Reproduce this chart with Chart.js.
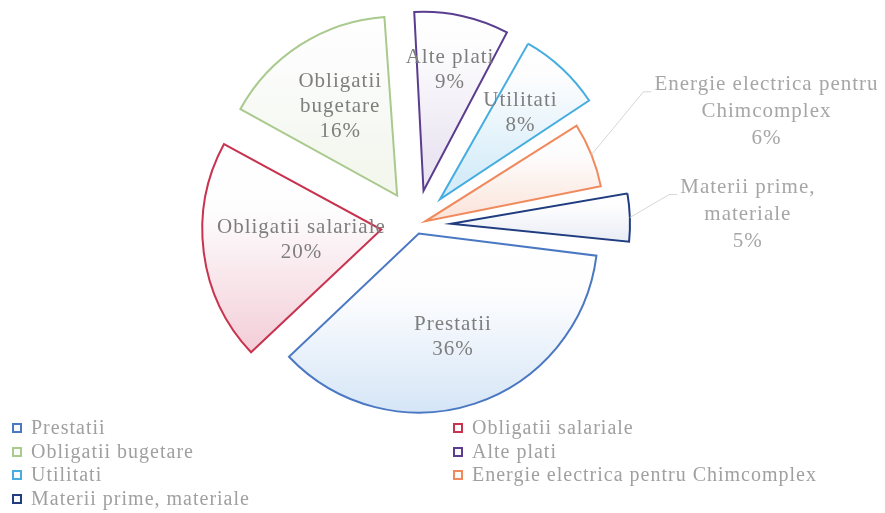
<!DOCTYPE html>
<html>
<head>
<meta charset="utf-8">
<script src="https://cdn.jsdelivr.net/npm/chart.js@4.4.1/dist/chart.umd.min.js"></script>
<style>
  body { margin: 0; background: #fff; }
  #wrap { position: relative; width: 885px; height: 513px; overflow: hidden; }
  #legend .item {
    position: absolute;
    font: 20px "Liberation Serif", serif;
    letter-spacing: 1px;
    color: #a0a0a0;
    white-space: nowrap;
    line-height: 23px;
  }
  #legend .box {
    display: inline-block;
    width: 6px;
    height: 6px;
    border: 2px solid;
    margin-right: 9px;
    position: relative;
    top: -1px;
  }
</style>
</head>
<body>
<div id="wrap">
  <canvas id="chart" width="885" height="513"></canvas>
  <div id="legend"></div>
</div>
<script>
// data
const categories = ['Prestatii', 'Obligatii salariale', 'Obligatii bugetare', 'Alte plati',
  'Utilitati', 'Energie electrica pentru Chimcomplex', 'Materii prime, materiale'];
const shares = [36, 20, 16, 9, 8, 6, 5];
// how the slice labels wrap
const labelLines = [['Prestatii'], ['Obligatii salariale'], ['Obligatii', 'bugetare'], ['Alte plati'],
  ['Utilitati'], ['Energie electrica pentru', 'Chimcomplex'], ['Materii prime,', 'materiale']];

// look
const borderColors = ['#4a78c2', '#c8334f', '#a9c98d', '#5b3d8f', '#45ade0', '#f08a5d', '#203d80'];
const fillColors = ['#d3e4f6', '#f3ccd6', '#f3f7ee', '#ebe6f2', '#d6edf9', '#fbe4da', '#e8ecf4'];
const explode = [36, 140, 140, 140, 140, 40, 140];
const RADIUS = 179;
// inside labels: distance from slice tip as fraction of radius; outside: shift from arc midpoint
const labelDist = [0.61, 0.45, 0.59, 0.69, 0.66, null, null];
const outsideShift = { 5: [175, -43], 6: [118, -3] };

const keepRadius = {
  id: 'keepRadius',
  afterDatasetsUpdate(chart) {
    const ctx = chart.ctx;
    chart.getDatasetMeta(0).data.forEach((arc, i) => {
      // chart.js grows exploded arcs a little, undo that
      const off = (arc.options.offset || 0) / 4;
      const fix = 1 - Math.sin(Math.min(Math.PI, arc.circumference));
      arc.outerRadius = RADIUS - off * fix;
      // white-to-tint fill from the top of the slice to its bottom
      const mid = (arc.startAngle + arc.endAngle) / 2;
      const oy = arc.y + Math.sin(mid) * off;
      let top = oy, bottom = oy;
      for (let k = 0; k <= 40; k++) {
        const a = arc.startAngle + (arc.endAngle - arc.startAngle) * k / 40;
        const y = oy + Math.sin(a) * arc.outerRadius;
        top = Math.min(top, y);
        bottom = Math.max(bottom, y);
      }
      const g = ctx.createLinearGradient(0, top, 0, bottom);
      g.addColorStop(0, '#ffffff');
      g.addColorStop(0.3, '#fdfdfe');
      g.addColorStop(1, fillColors[i]);
      arc.options = Object.assign({}, arc.options, { backgroundColor: g });
    });
  }
};

const sliceLabels = {
  id: 'sliceLabels',
  afterDatasetsDraw(chart) {
    const ctx = chart.ctx;
    const total = shares.reduce((a, b) => a + b, 0);
    ctx.save();
    ctx.font = '21px "Liberation Serif", serif';
    ctx.letterSpacing = '1px';
    ctx.textAlign = 'center';
    ctx.textBaseline = 'middle';
    chart.getDatasetMeta(0).data.forEach((arc, i) => {
      const mid = (arc.startAngle + arc.endAngle) / 2;
      const off = (arc.options.offset || 0) / 4;
      const ox = arc.x + Math.cos(mid) * off;
      const oy = arc.y + Math.sin(mid) * off;
      const lines = labelLines[i].concat([Math.round(shares[i] / total * 100) + '%']);
      if (labelDist[i] !== null) {
        const d = labelDist[i] * RADIUS;
        const cx = ox + Math.cos(mid) * d;
        const cy = oy + Math.sin(mid) * d;
        const lh = 25;
        ctx.fillStyle = '#7e7e7e';
        lines.forEach((t, k) => ctx.fillText(t, cx, cy + (k - (lines.length - 1) / 2) * lh));
      } else {
        const ax = ox + Math.cos(mid) * RADIUS;
        const ay = oy + Math.sin(mid) * RADIUS;
        const cx = ax + outsideShift[i][0];
        const cy = ay + outsideShift[i][1];
        const lh = 27;
        const firstY = cy - (lines.length - 1) / 2 * lh;
        const left = cx - ctx.measureText(lines[0]).width / 2;
        ctx.strokeStyle = '#d6d6d6';
        ctx.lineWidth = 1;
        ctx.beginPath();
        ctx.moveTo(ax, ay);
        ctx.lineTo(left - 11, firstY + 7);
        ctx.lineTo(left - 3, firstY + 7);
        ctx.stroke();
        ctx.fillStyle = '#a6a6a6';
        lines.forEach((t, k) => ctx.fillText(t, cx, firstY + k * lh));
      }
    });
    ctx.restore();
  }
};

new Chart(document.getElementById('chart'), {
  type: 'pie',
  data: {
    labels: categories,
    datasets: [{
      data: shares,
      backgroundColor: fillColors,
      borderColor: borderColors,
      borderWidth: 2,
      borderJoinStyle: 'miter',
      offset: explode,
      radius: RADIUS
    }]
  },
  options: {
    responsive: false,
    animation: false,
    events: [],
    rotation: 97,
    layout: { padding: { left: 0, right: 53, top: 0, bottom: 63 } },
    plugins: {
      legend: { display: false },
      tooltip: { enabled: false }
    }
  },
  plugins: [keepRadius, sliceLabels]
});

// legend in two columns
const legend = document.getElementById('legend');
categories.forEach((name, i) => {
  const el = document.createElement('div');
  el.className = 'item';
  el.style.left = (12 + (i % 2) * 441) + 'px';
  el.style.top = (416 + Math.floor(i / 2) * 23.5) + 'px';
  const box = document.createElement('span');
  box.className = 'box';
  box.style.borderColor = borderColors[i];
  box.style.background = '#fafafa';
  el.appendChild(box);
  el.appendChild(document.createTextNode(name));
  legend.appendChild(el);
});
</script>
</body>
</html>
